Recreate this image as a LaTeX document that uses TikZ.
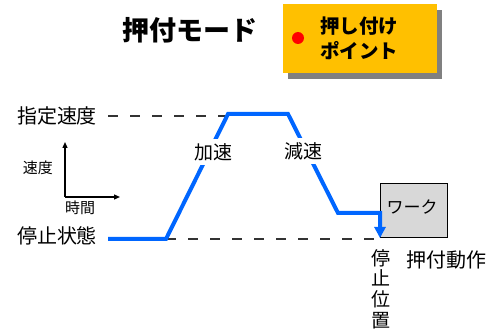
\documentclass[tikz,border=0pt]{standalone}
\usepackage{fontspec}
\newfontfamily\jp{Noto Sans CJK JP}
\usetikzlibrary{arrows.meta,shadows}
\definecolor{gold}{RGB}{255,192,0}
\definecolor{profblue}{RGB}{0,102,255}
\definecolor{workgray}{RGB}{216,216,216}
\tikzset{
  txt/.style={inner sep=0pt, font=\jp\fontsize{#1}{#1}\selectfont},
  dashline/.style={line width=1.3pt, draw=black!80, dash pattern=on 10pt off 12pt},
  profile/.style={line width=4pt, draw=profblue, line join=miter},
  axis/.style={line width=1.3pt, -{Triangle[length=6pt,width=5pt]}},
  gaplabel/.style={fill=white, inner sep=4pt, font=\jp\fontsize{19}{19}\selectfont}
}
\begin{document}
\begin{tikzpicture}[x=1pt,y=-1pt]
\useasboundingbox (0,0) rectangle (491,329);
% title
\node[inner sep=0pt, font=\jp\bfseries\fontsize{27}{27}\selectfont] (title) at (190,30) {押付モード};
% yellow box
\node[fill=gold, minimum width=154pt, minimum height=69pt, anchor=north west, inner sep=0pt,
      drop shadow={shadow xshift=5pt, shadow yshift=-6pt, fill=black!50, opacity=1}] (pbox) at (283,4) {};
\node[circle, fill=red, minimum size=12pt, inner sep=0pt] (dot) at (298,38) {};
\node[anchor=west, align=left, inner sep=0pt, font=\jp\bfseries\fontsize{19.5}{25}\selectfont] (ptxt) at (320,38) {押し付け\\ポイント};
% labels left
\node[txt=20] (vset) at (57,116) {指定速度};
\node[txt=20] (vstop) at (57,236) {停止状態};
\node[txt=15] (vel) at (38,168) {速度};
\node[txt=15] (tim) at (80,208) {時間};
% axes
\coordinate (o) at (65,197);
\coordinate (ytop) at (65,142);
\coordinate (xend) at (120,197);
\draw[axis] (o) -- (ytop);
\draw[axis] (o) -- (xend);
% dashed reference lines
\coordinate (d1a) at (108,116);
\coordinate (d1b) at (226,116);
\coordinate (d2a) at (166,239);
\coordinate (d2b) at (380,239);
\draw[dashline] (d1a) -- (d1b);
\draw[dashline] (d2a) -- (d2b);
% work box
\node[draw=black, line width=1pt, fill=workgray, minimum width=67pt, minimum height=54pt, anchor=south west, inner sep=0pt] (work) at (380,238) {};
\node[txt=17] (worktxt) at (412,207) {ワーク};
% velocity profile
\coordinate (p0) at (108,239);
\coordinate (p1) at (166,239);
\coordinate (p2) at (228,114);
\coordinate (p3) at (288,114);
\coordinate (p4) at (338,213);
\coordinate (p5) at (380,213);
\coordinate (p6) at (380,238);
\draw[profile, -{Triangle[length=11pt,width=11pt]}] (p0) -- (p1) -- (p2) -- (p3) -- (p4) -- (p5) -- (p6);
\node[gaplabel] (acc) at (213,152) {加速};
\node[gaplabel] (dec) at (303,151) {減速};
% bottom labels
\node[align=center, inner sep=0pt, font=\jp\fontsize{19}{20.7}\selectfont] (stoppos) at (381,289) {停\\止\\位\\置};
\node[txt=20] (push) at (446,260) {押付動作};
\end{tikzpicture}
\end{document}
